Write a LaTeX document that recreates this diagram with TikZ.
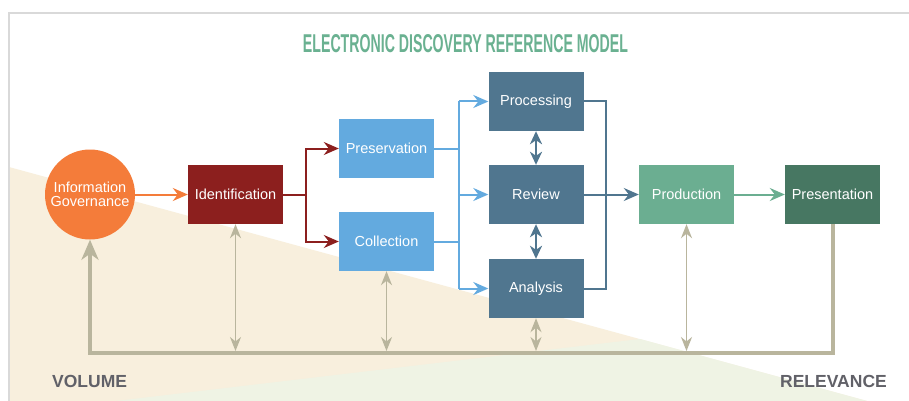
\documentclass[tikz,border=0pt]{standalone}
\usepackage{fontspec}
\setmainfont{Liberation Sans}
\usetikzlibrary{arrows.meta}
\definecolor{framegray}{HTML}{D9D9D9}
\definecolor{beige}{HTML}{F8EFDD}
\definecolor{lgreen}{HTML}{EFF3E4}
\definecolor{titlegreen}{HTML}{6AB191}
\definecolor{igorange}{HTML}{F47C3A}
\definecolor{idred}{HTML}{8C1F1E}
\definecolor{ltblue}{HTML}{63AADF}
\definecolor{steel}{HTML}{50768F}
\definecolor{prodgreen}{HTML}{6BAE91}
\definecolor{presgreen}{HTML}{477762}
\definecolor{tanline}{HTML}{B9B59D}
\definecolor{labelgray}{HTML}{616168}
\begin{document}
\begin{tikzpicture}[x=1pt,y=-1pt,
  boxtext/.style={text=white,font=\fontsize{14.5}{15}\selectfont},
  stagebox/.style={boxtext,rectangle,minimum width=95pt,minimum height=59pt,inner sep=0pt},
  conn/.style={line width=2pt},
  bigtip/.tip={Stealth[length=15pt,width=13pt,inset=5pt]},
  dbltip/.tip={Stealth[length=13pt,width=12pt,inset=4pt]},
  thintip/.tip={Stealth[length=14pt,width=11pt,inset=4.5pt]},
  fbtip/.tip={Stealth[length=20pt,width=17pt,inset=6pt]},
  thinlink/.style={tanline,line width=1.5pt,{thintip}-{thintip}},
  cornerlabel/.style={text=labelgray,inner sep=0pt,font=\fontsize{17.5}{20}\selectfont\bfseries}
]
\useasboundingbox (0,0) rectangle (909,401);
\fill[white] (0,0) rectangle (909,401);
% background triangles
\fill[beige] (9,167) -- (867,401) -- (9,401) -- cycle;
\fill[lgreen] (116,401) -- (640,339) -- (867,401) -- cycle;
% frame
\draw[framegray,line width=1.5pt] (9,401) -- (9,13) -- (909,13);
% title
\node[text=titlegreen,inner sep=0pt] (title) at (465.5,44)
  {\resizebox{325pt}{18pt}{\bfseries ELECTRONIC DISCOVERY REFERENCE MODEL}};
% nodes
\node[boxtext,circle,fill=igorange,minimum size=90pt,inner sep=0pt,align=center] (ig) at (90,194.5)
  {Information\\[-1pt]Governance};
\node[stagebox,fill=idred] (ident) at (235.5,194.5) {Identification};
\node[stagebox,fill=ltblue] (pres) at (386.5,148.5) {Preservation};
\node[stagebox,fill=ltblue] (coll) at (386.5,241.5) {Collection};
\node[stagebox,fill=steel] (proc) at (536,101.5) {Processing};
\node[stagebox,fill=steel] (rev) at (536,194.5) {Review};
\node[stagebox,fill=steel] (anal) at (536,288.5) {Analysis};
\node[stagebox,fill=prodgreen] (prod) at (686.5,194.5) {Production};
\node[stagebox,fill=presgreen] (prsn) at (832.5,194.5) {Presentation};
% helper coordinates
\coordinate (rx) at (306,194.5);
\coordinate (bx) at (459,194.5);
\coordinate (sx) at (606,194.5);
\coordinate (bl) at (0,353);
\coordinate (blt) at (0,351);
% orange
\draw[conn,igorange,-{bigtip}] (ig) -- (ident);
% red split
\draw[conn,idred] (ident.east) -- (rx);
\draw[conn,idred,-{bigtip}] (rx) |- (pres.west);
\draw[conn,idred,-{bigtip}] (rx) |- (coll.west);
% blue
\draw[conn,ltblue] (pres.east) -- (pres.east -| bx);
\draw[conn,ltblue] (coll.east) -- (coll.east -| bx);
\draw[conn,ltblue] (proc.west -| bx) -- (anal.west -| bx);
\draw[conn,ltblue,-{bigtip}] (proc.west -| bx) -- (proc.west);
\draw[conn,ltblue,-{bigtip}] (rev.west -| bx) -- (rev.west);
\draw[conn,ltblue,-{bigtip}] (anal.west -| bx) -- (anal.west);
% steel
\draw[line width=2.5pt,steel,{dbltip}-{dbltip}] (proc.south) -- (rev.north);
\draw[line width=2.5pt,steel,{dbltip}-{dbltip}] (rev.south) -- (anal.north);
\draw[conn,steel] (proc.east) -- (proc.east -| sx) -- (anal.east -| sx) -- (anal.east);
\draw[conn,steel,-{bigtip}] (rev) -- (prod);
% green
\draw[conn,prodgreen,-{bigtip}] (prod) -- (prsn);
% feedback loop
\draw[tanline,line width=4pt,-{fbtip}] (prsn.south) -- (prsn.south |- bl) -- (ig.south |- bl) -- (ig.south);
% thin tan links
\draw[thinlink] (ident.south) -- (ident.south |- blt);
\draw[thinlink] (coll.south) -- (coll.south |- blt);
\draw[thinlink] (anal.south) -- (anal.south |- blt);
\draw[thinlink] (prod.south) -- (prod.south |- blt);
% corner labels
\node[cornerlabel,anchor=base west] (vol) at (52,387.5) {VOLUME};
\node[cornerlabel,anchor=base east] (rel) at (887,387.5) {RELEVANCE};
\end{tikzpicture}
\end{document}
